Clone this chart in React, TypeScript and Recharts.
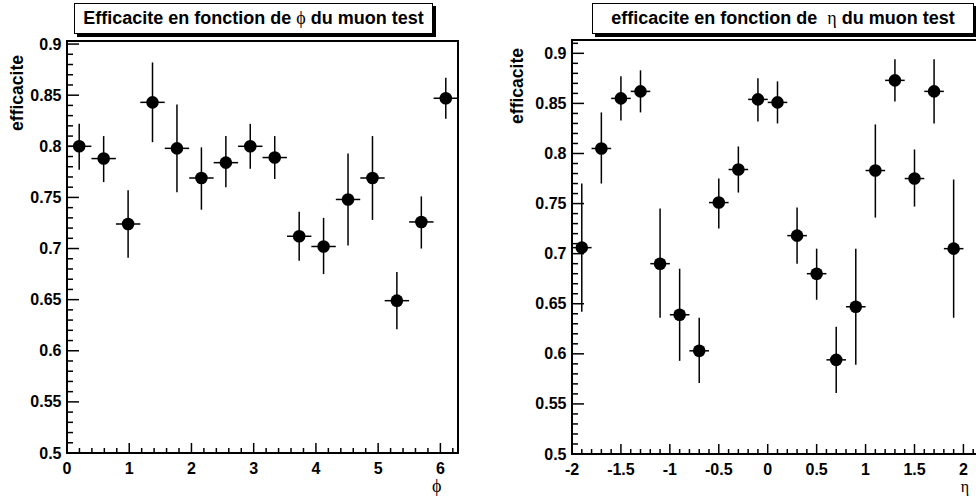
import { ScatterChart, Scatter, XAxis, YAxis, ErrorBar, ReferenceArea, Label } from "recharts";

// efficacite vs phi (16 bins over 0..2pi)
const phiCenters = [0.196, 0.589, 0.982, 1.374, 1.767, 2.16, 2.553, 2.945, 3.338, 3.731, 4.123, 4.516, 4.909, 5.301, 5.694, 6.087];
const phiEff = [0.8, 0.788, 0.724, 0.843, 0.798, 0.769, 0.784, 0.8, 0.789, 0.712, 0.702, 0.748, 0.769, 0.649, 0.726, 0.847];
const phiErrUp = [0.022, 0.022, 0.033, 0.039, 0.043, 0.03, 0.026, 0.022, 0.021, 0.024, 0.028, 0.045, 0.041, 0.028, 0.025, 0.02];
const phiErrDown = [0.023, 0.023, 0.033, 0.039, 0.043, 0.031, 0.024, 0.022, 0.021, 0.024, 0.027, 0.045, 0.041, 0.028, 0.026, 0.02];
const phiHalfBin = 0.196;

// efficacite vs eta (20 bins over -2..2)
const etaCenters = [-1.9, -1.7, -1.5, -1.3, -1.1, -0.9, -0.7, -0.5, -0.3, -0.1, 0.1, 0.3, 0.5, 0.7, 0.9, 1.1, 1.3, 1.5, 1.7, 1.9];
const etaEff = [0.706, 0.805, 0.855, 0.862, 0.69, 0.639, 0.603, 0.751, 0.784, 0.854, 0.851, 0.718, 0.68, 0.594, 0.647, 0.783, 0.873, 0.775, 0.862, 0.705];
const etaErrUp = [0.064, 0.036, 0.022, 0.021, 0.055, 0.046, 0.033, 0.024, 0.023, 0.021, 0.021, 0.028, 0.025, 0.033, 0.058, 0.046, 0.021, 0.029, 0.032, 0.069];
const etaErrDown = [0.064, 0.035, 0.022, 0.021, 0.054, 0.046, 0.032, 0.026, 0.023, 0.022, 0.021, 0.028, 0.026, 0.033, 0.058, 0.047, 0.021, 0.028, 0.032, 0.069];
const etaHalfBin = 0.1;

const phiMajorTicks = [0, 1, 2, 3, 4, 5, 6];
const etaMajorTicks = [-2, -1.5, -1, -0.5, 0, 0.5, 1, 1.5, 2];
const effMajorTicks = [0.5, 0.55, 0.6, 0.65, 0.7, 0.75, 0.8, 0.85, 0.9];

const SANS = "'Liberation Sans', Arial, Helvetica, sans-serif";
const SERIF = "'Liberation Serif', 'DejaVu Serif', serif";

const range = (a: number, b: number, step: number) =>
  Array.from({ length: Math.round((b - a) / step) + 1 }, (_, i) => +(a + i * step).toFixed(4));

const buildPoints = (xs: number[], ys: number[], up: number[], down: number[], xerr: number) =>
  xs.map((x, i) => ({ x, y: ys[i], ex: xerr, ey: [down[i], up[i]] }));

const phiPoints = buildPoints(phiCenters, phiEff, phiErrUp, phiErrDown, phiHalfBin);
const etaPoints = buildPoints(etaCenters, etaEff, etaErrUp, etaErrDown, etaHalfBin);

const isMajor = (v: number, majors: number[]) => majors.some((m) => Math.abs(m - v) < 1e-6);

const makeXTick = (majors: number[]) => (props: any) => {
  const { x, y, payload } = props;
  const major = isMajor(payload.value, majors);
  return (
    <g>
      <line x1={x} y1={y} x2={x} y2={y - (major ? 10 : 5)} stroke="#000" strokeWidth={1.5} />
      {major && (
        <text x={x} y={y + 21} textAnchor="middle" fontSize={16} fontWeight="bold" fontFamily={SANS} fill="#000">
          {String(payload.value)}
        </text>
      )}
    </g>
  );
};

const makeYTick = (majors: number[]) => (props: any) => {
  const { x, y, payload } = props;
  const major = isMajor(payload.value, majors);
  return (
    <g>
      <line x1={x} y1={y} x2={x + (major ? 12 : 6)} y2={y} stroke="#000" strokeWidth={1.5} />
      {major && (
        <text x={x - 5.5} y={y + 5.5} textAnchor="end" fontSize={16} fontWeight="bold" fontFamily={SANS} fill="#000">
          {String(parseFloat(payload.value.toFixed(2)))}
        </text>
      )}
    </g>
  );
};

const marker = (p: any) => <circle cx={p.cx} cy={p.cy} r={6.3} fill="#000" />;

const TitleBox = ({ left, width, children }: { left: number; width: number; children: any }) => (
  <div
    style={{
      position: "absolute",
      left,
      top: 3,
      width,
      height: 31,
      boxSizing: "border-box",
      border: "1px solid #000",
      boxShadow: "3px 3px 0 #000",
      background: "#fff",
      fontFamily: SANS,
      fontWeight: "bold",
      fontSize: 18,
      lineHeight: "29px",
      textAlign: "center",
      whiteSpace: "pre",
    }}
  >
    {children}
  </div>
);

const greek = { fontFamily: SERIF, fontWeight: "normal" as const };

export default function App() {
  return (
    <div style={{ position: "fixed", left: 0, top: 0, width: 976, height: 499, overflow: "hidden", background: "#fff" }}>
      <div style={{ position: "absolute", left: 0, top: 0 }}>
        <ScatterChart width={470} height={499} margin={{ top: 41, right: 12, bottom: 0, left: 0 }}>
          <XAxis
            type="number"
            dataKey="x"
            domain={[0, 6.2832]}
            allowDataOverflow
            ticks={range(0, 6.2, 0.2)}
            interval={0}
            tick={makeXTick(phiMajorTicks)}
            tickSize={0}
            tickMargin={0}
            tickLine={false}
            axisLine={false}
            height={46}
          >
            <Label
              content={() => (
                <text x={436.7} y={492} textAnchor="middle" fontSize={18} fontWeight="normal" fontFamily={SERIF} fill="#000">
                  ϕ
                </text>
              )}
            />
          </XAxis>
          <YAxis
            type="number"
            dataKey="y"
            domain={[0.5, 0.903]}
            allowDataOverflow
            ticks={range(0.5, 0.9, 0.01)}
            interval={0}
            tick={makeYTick(effMajorTicks)}
            tickSize={0}
            tickMargin={0}
            tickLine={false}
            axisLine={false}
            width={67}
          >
            <Label
              content={() => (
                <text
                  transform="translate(22.5,55) rotate(-90)"
                  textAnchor="end"
                  fontSize={17.5}
                  fontWeight="bold"
                  fontFamily={SANS}
                  fill="#000"
                >
                  efficacite
                </text>
              )}
            />
          </YAxis>
          <ReferenceArea x1={0} x2={6.2832} y1={0.5} y2={0.903} fill="none" stroke="#000" strokeWidth={2} />
          <Scatter data={phiPoints} fill="#000" shape={marker} isAnimationActive={false}>
            <ErrorBar dataKey="ey" direction="y" width={0} stroke="#000" strokeWidth={1.5} isAnimationActive={false} />
            <ErrorBar dataKey="ex" direction="x" width={0} stroke="#000" strokeWidth={1.5} isAnimationActive={false} />
          </Scatter>
        </ScatterChart>
      </div>

      <div style={{ position: "absolute", left: 490, top: 0 }}>
        <ScatterChart width={500} height={499} margin={{ top: 40, right: 7, bottom: 0, left: 0 }}>
          <XAxis
            type="number"
            dataKey="x"
            domain={[-2, 2.2]}
            allowDataOverflow
            ticks={range(-2, 2.2, 0.1)}
            interval={0}
            tick={makeXTick(etaMajorTicks)}
            tickSize={0}
            tickMargin={0}
            tickLine={false}
            axisLine={false}
            height={45}
          >
            <Label
              content={() => (
                <text x={475} y={492} textAnchor="middle" fontSize={16} fontWeight="normal" fontFamily={SERIF} fill="#000">
                  η
                </text>
              )}
            />
          </XAxis>
          <YAxis
            type="number"
            dataKey="y"
            domain={[0.5, 0.9133]}
            allowDataOverflow
            ticks={range(0.5, 0.91, 0.01)}
            interval={0}
            tick={makeYTick(effMajorTicks)}
            tickSize={0}
            tickMargin={0}
            tickLine={false}
            axisLine={false}
            width={82}
          >
            <Label
              content={() => (
                <text
                  transform="translate(33,48) rotate(-90)"
                  textAnchor="end"
                  fontSize={17.5}
                  fontWeight="bold"
                  fontFamily={SANS}
                  fill="#000"
                >
                  efficacite
                </text>
              )}
            />
          </YAxis>
          <ReferenceArea x1={-2} x2={2.2} y1={0.5} y2={0.9133} fill="none" stroke="#000" strokeWidth={2} />
          <Scatter data={etaPoints} fill="#000" shape={marker} isAnimationActive={false}>
            <ErrorBar dataKey="ey" direction="y" width={0} stroke="#000" strokeWidth={1.5} isAnimationActive={false} />
            <ErrorBar dataKey="ex" direction="x" width={0} stroke="#000" strokeWidth={1.5} isAnimationActive={false} />
          </Scatter>
        </ScatterChart>
      </div>

      <TitleBox left={74} width={359}>
        Efficacite en fonction de <span style={greek}>ϕ</span> du muon test
      </TitleBox>
      <TitleBox left={592} width={382}>
        efficacite en fonction de  <span style={greek}>η</span> du muon test
      </TitleBox>
    </div>
  );
}
